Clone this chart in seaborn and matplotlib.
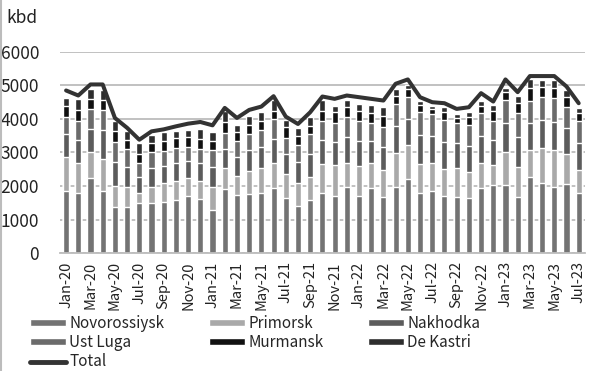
import numpy as np
import matplotlib
matplotlib.use("Agg")
import matplotlib.pyplot as plt
import seaborn as sns
from matplotlib.lines import Line2D

months = ["Jan-20", "Feb-20", "Mar-20", "Apr-20", "May-20", "Jun-20", "Jul-20", "Aug-20",
          "Sep-20", "Oct-20", "Nov-20", "Dec-20", "Jan-21", "Feb-21", "Mar-21", "Apr-21",
          "May-21", "Jun-21", "Jul-21", "Aug-21", "Sep-21", "Oct-21", "Nov-21", "Dec-21",
          "Jan-22", "Feb-22", "Mar-22", "Apr-22", "May-22", "Jun-22", "Jul-22", "Aug-22",
          "Sep-22", "Oct-22", "Nov-22", "Dec-22", "Jan-23", "Feb-23", "Mar-23", "Apr-23",
          "May-23", "Jun-23", "Jul-23"]

novorossiysk = [1840, 1790, 2230, 1860, 1380, 1380, 1480, 1500, 1530, 1580, 1690, 1600,
                1290, 1910, 1730, 1760, 1780, 1940, 1630, 1410, 1580, 1780, 1710, 1980,
                1710, 1930, 1680, 1960, 2200, 1800, 1850, 1710, 1680, 1630, 1930, 2040,
                2040, 1680, 2260, 2090, 1960, 2060, 1800]
primorsk = [1040, 890, 780, 960, 630, 580, 300, 460, 550, 570, 550, 560,
            670, 630, 560, 680, 760, 750, 730, 680, 680, 870, 910, 710,
            880, 760, 790, 1010, 1010, 870, 840, 790, 850, 790, 760, 600,
            970, 900, 810, 1040, 1100, 880, 690]
nakhodka = [680, 700, 690, 850, 700, 620, 500, 570, 520, 540, 500, 520,
            600, 570, 580, 620, 610, 720, 590, 620, 700, 720, 700, 760,
            740, 660, 700, 810, 800, 850, 800, 810, 740, 780, 810, 720,
            860, 880, 810, 840, 860, 780, 800]
ust_luga = [510, 570, 600, 600, 590, 520, 410, 470, 430, 450, 420, 430,
            500, 470, 470, 500, 510, 590, 490, 510, 580, 580, 570, 620,
            600, 540, 580, 660, 660, 700, 650, 660, 600, 630, 670, 590,
            710, 730, 670, 680, 700, 630, 660]
murmansk = [310, 330, 300, 290, 350, 280, 270, 280, 310, 300, 300, 300,
            280, 320, 270, 270, 290, 250, 320, 260, 260, 300, 310, 280,
            320, 280, 350, 260, 220, 200, 150, 230, 170, 230, 230, 280,
            210, 300, 380, 300, 300, 300, 220]
de_kastri = [240, 320, 300, 290, 280, 270, 320, 250, 270, 200, 220, 300,
             260, 350, 220, 260, 250, 330, 210, 255, 250, 330, 200, 230,
             200, 250, 250, 200, 130, 130, 90, 150, 110, 160, 150, 190,
             140, 210, 270, 220, 230, 220, 150]
total = [4850, 4700, 5030, 5030, 4030, 3735, 3380, 3630, 3690, 3780, 3860, 3910,
         3810, 4330, 4030, 4270, 4370, 4680, 4070, 3850, 4200, 4670, 4600, 4700,
         4650, 4600, 4550, 5050, 5180, 4650, 4500, 4470, 4300, 4350, 4770, 4520,
         5180, 4800, 5280, 5280, 5280, 4970, 4470]

series = [("Novorossiysk", novorossiysk, "#737373"),
          ("Primorsk", primorsk, "#a9a9a9"),
          ("Nakhodka", nakhodka, "#5c5c5c"),
          ("Ust Luga", ust_luga, "#6b6b6b"),
          ("Murmansk", murmansk, "#111111"),
          ("De Kastri", de_kastri, "#2e2e2e")]

sns.set_style("white")
plt.rcParams['font.family'] = ['Noto Sans CJK JP', 'DejaVu Sans']

fig = plt.figure(figsize=(5.91, 3.71), dpi=100)
ax = fig.add_axes([0.1015, 0.318, 0.888, 0.542])

# stack by drawing cumulative heights, tallest first
tops = np.cumsum([s[1] for s in series], axis=0)
handles = {}
for i in range(len(series) - 1, -1, -1):
    name, _, col = series[i]
    sns.barplot(x=months, y=tops[i], color=col, width=0.5, ax=ax, zorder=2,
                saturation=1, label=name)
    handles[name] = ax.patches[-1]

sns.lineplot(x=np.arange(len(months)), y=total, color="#333333", lw=2.9,
             ax=ax, zorder=3, solid_capstyle="round")

ax.set_ylim(0, 6000)
ax.set_xlim(-0.5, len(months) - 0.5)
ax.set_yticks(range(0, 6001, 1000))
ax.yaxis.grid(True, color="#bcbcbc", lw=1.3, zorder=0)
ax.set_axisbelow(True)
for sp in ["top", "right", "left"]:
    ax.spines[sp].set_visible(False)
ax.spines["bottom"].set_color("#bcbcbc")
ax.spines["bottom"].set_linewidth(1.3)
ax.tick_params(axis="y", length=0, labelsize=12.5, pad=15, labelcolor="#222222")
ax.set_xticks(range(0, len(months), 2))
ax.set_xticklabels(months[::2], rotation=90)
ax.set_xticks(np.arange(-0.5, len(months), 1), minor=True)
ax.tick_params(axis="x", which="major", length=0, labelsize=10.5, pad=6,
               labelcolor="#222222")
ax.tick_params(axis="x", which="minor", length=4, width=1.2, color="#bcbcbc")
ax.set_xlabel("")
ax.set_ylabel("")
if ax.legend_:
    ax.legend_.remove()

fig.text(0.011, 0.952, "kbd", fontsize=12.5, color="#222222", va="center")

tot_handle = Line2D([], [], color="#333333", lw=3.5, solid_capstyle="round")
order = ["Novorossiysk", "Ust Luga", "Total", "Primorsk", "Murmansk", "Nakhodka", "De Kastri"]
hl = [tot_handle if n == "Total" else handles[n] for n in order]
fig.legend(hl, order, loc="upper left", bbox_to_anchor=(0.05, 0.152), ncol=3,
           frameon=False, fontsize=11, handlelength=2.4, handleheight=0.35,
           handletextpad=0.2, labelspacing=0.15, columnspacing=2.9,
           borderaxespad=0, borderpad=0)

fig.add_artist(Line2D([0.002, 0.002], [0, 1], color="#bcbcbc", lw=1.5))

fig.savefig("out.png", dpi=100)
